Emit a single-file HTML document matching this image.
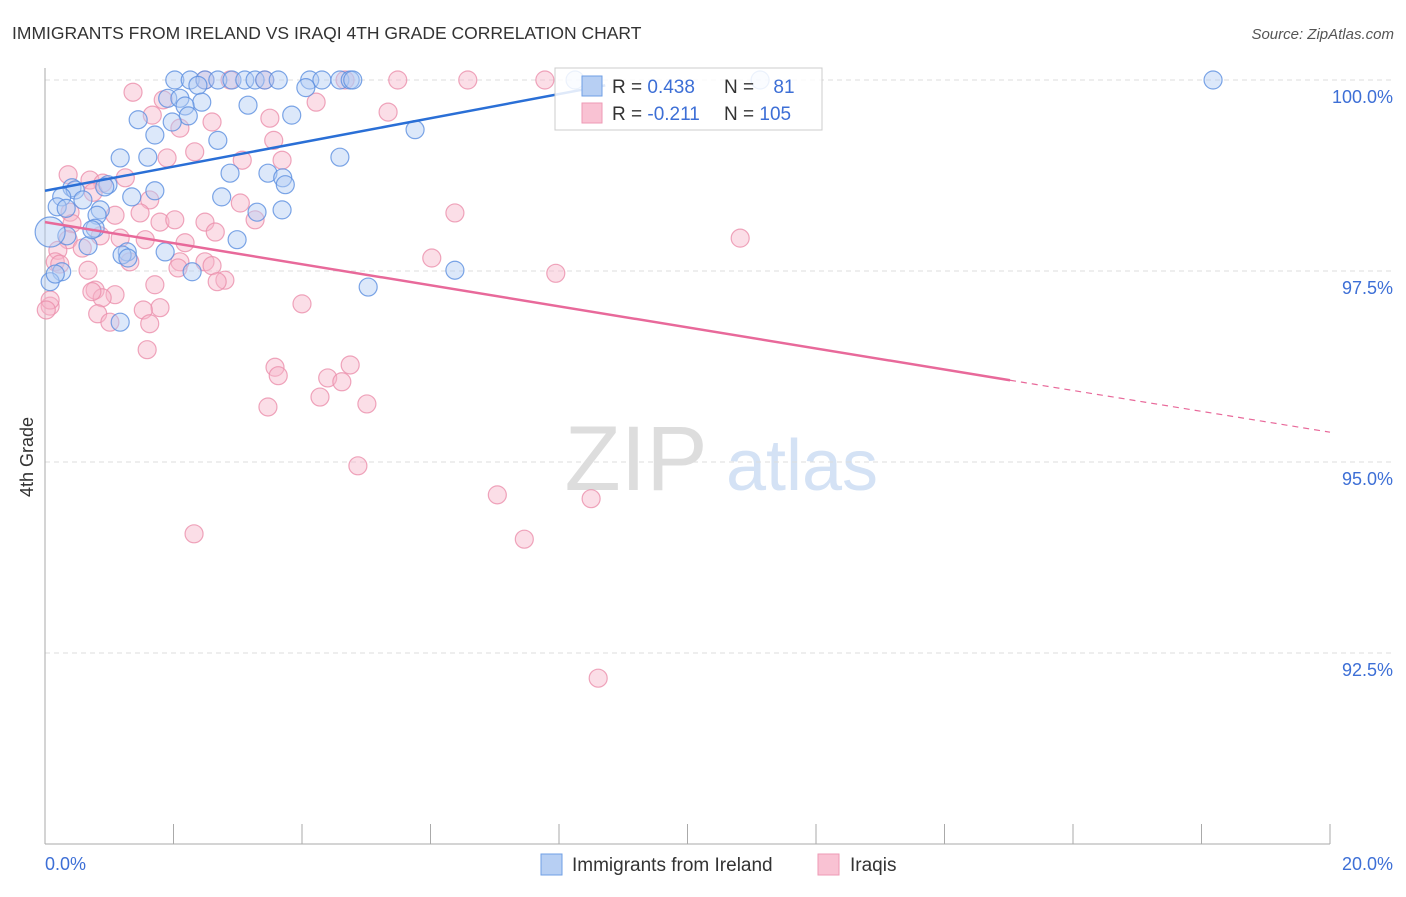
<!DOCTYPE html>
<html><head><meta charset="utf-8"><style>
body{margin:0;background:#fff;font-family:"Liberation Sans",sans-serif;}
svg text{font-family:"Liberation Sans",sans-serif;}
</style></head><body>
<svg id="chart" width="1406" height="892" viewBox="0 0 1406 892">
<text x="12" y="39" font-size="17.5" fill="#333">IMMIGRANTS FROM IRELAND VS IRAQI 4TH GRADE CORRELATION CHART</text>
<text x="1394" y="39" font-size="15" fill="#555" font-style="italic" text-anchor="end">Source: ZipAtlas.com</text>
<text x="33" y="457" font-size="18" fill="#333" text-anchor="middle" transform="rotate(-90 33 457)">4th Grade</text>
<g><text x="636" y="490" font-size="92" fill="#ddd" text-anchor="middle" font-family="Liberation Serif,serif">ZIP</text><text x="802" y="490" font-size="72" fill="#d4e2f5" text-anchor="middle">atlas</text></g>
<g id="grid"></g><g id="axes"></g><g id="pts"></g><g id="trend"></g>
<g>
<rect x="555" y="68" width="267" height="62" fill="#fff" fill-opacity="0.85" stroke="#ccc"/>
<rect x="582" y="76" width="20" height="20" fill="#b7cff3" stroke="#6f9fe6"/>
<rect x="582" y="103" width="20" height="20" fill="#f9c2d3" stroke="#ee9ab4"/>
<text x="612" y="93" font-size="19" fill="#333">R = <tspan fill="#3d6fd6">0.438</tspan></text>
<text x="724" y="93" font-size="19" fill="#333">N = <tspan fill="#3d6fd6" dx="14">81</tspan></text>
<text x="612" y="120" font-size="19" fill="#333">R = <tspan fill="#3d6fd6">-0.211</tspan></text>
<text x="724" y="120" font-size="19" fill="#333">N = <tspan fill="#3d6fd6">105</tspan></text>
</g>
<g>
<rect x="541" y="854" width="21" height="21" fill="#b7cff3" stroke="#6f9fe6"/>
<text x="572" y="871" font-size="19" fill="#333">Immigrants from Ireland</text>
<rect x="818" y="854" width="21" height="21" fill="#f9c2d3" stroke="#ee9ab4"/>
<text x="850" y="871" font-size="19" fill="#333">Iraqis</text>
</g>
</svg>
<script>
const yTicks=[100,97.5,95,92.5];
const yTickLabels=["100.0%","97.5%","95.0%","92.5%"];
const xTicks=[0,2,4,6,8,10,12,14,16,18,20];
const blueX=[2.02,2.26,2.49,2.69,2.91,3.11,3.27,3.42,3.63,4.12,4.31,4.59,4.75,4.79,18.18,8.25,11.13,2.38,4.06,1.91,2.1,2.44,3.16,2.18,3.84,2.23,1.45,1.98,1.71,5.76,2.69,1.17,1.6,4.59,2.88,3.47,3.7,3.74,0.98,0.42,0.47,1.71,0.93,0.26,2.75,1.35,0.59,0.19,0.33,3.3,3.69,0.86,0.81,0.78,2.99,0.34,0.67,1.28,1.87,1.2,0.26,2.29,6.38,5.03,1.17,0.08,0.08,0.73,1.29,0.16];
const blueY=[100,100,100,100,100,100,100,100,100,100,100,100,100,100,100,100,100,99.93,99.9,99.76,99.76,99.71,99.67,99.66,99.54,99.53,99.48,99.45,99.28,99.35,99.21,98.98,98.99,98.99,98.78,98.78,98.72,98.63,98.63,98.59,98.56,98.55,98.6,98.47,98.47,98.47,98.43,98.34,98.32,98.27,98.3,98.3,98.23,98.06,97.91,97.96,97.83,97.75,97.75,97.71,97.49,97.49,97.51,97.29,96.83,98.01,97.36,98.04,97.67,97.46];
const pinkX=[1.37,2.88,3.42,2.49,5.49,6.58,7.78,4.67,4.22,5.34,1.84,1.67,2.6,2.1,3.5,3.56,2.33,3.07,3.69,1.9,1.25,0.7,0.9,0.75,1.63,3.04,3.27,6.38,0.39,1.09,1.48,0.42,1.79,2.02,2.49,2.65,0.86,1.56,1.17,2.18,0.36,0.58,0.2,1.32,2.1,2.49,2.6,6.02,10.82,7.95,2.07,0.16,0.23,0.67,0.78,1.71,2.8,2.68,1.09,0.89,0.73,4.0,1.79,1.53,0.08,0.82,1.01,1.63,0.08,1.59,3.58,3.63,4.4,4.75,4.62,4.28,5.01,3.47,4.87,7.04,8.5,7.46,2.32,8.61,0.36,0.02];
const pinkY=[99.84,100,100,100,100,100,100,100,99.71,99.58,99.74,99.54,99.45,99.37,99.5,99.21,99.06,98.95,98.95,98.98,98.72,98.69,98.65,98.53,98.43,98.39,98.17,98.26,98.27,98.23,98.26,98.12,98.14,98.17,98.14,98.01,97.96,97.91,97.93,97.87,97.91,97.8,97.77,97.62,97.62,97.62,97.57,97.67,97.93,97.47,97.54,97.62,97.59,97.51,97.25,97.32,97.38,97.36,97.19,97.15,97.23,97.07,97.02,96.99,97.04,96.94,96.83,96.81,97.12,96.47,96.24,96.13,96.1,96.27,96.05,95.85,95.76,95.72,94.95,94.57,94.52,93.99,94.06,92.17,98.76,96.99];
const blueTrend=[[0,98.55],[8.72,99.93]];
const pinkTrend=[[0,98.14],[15.02,96.07]];
const pinkTrendDash=[[15.02,96.07],[20,95.39]];
const NS="http://www.w3.org/2000/svg";
const X=v=>45+v/20*1285;
const Y=v=>80+(100-v)/2.5*191;
function mk(tag,attrs,parent){const e=document.createElementNS(NS,tag);for(const k in attrs)e.setAttribute(k,attrs[k]);parent.appendChild(e);return e;}
const grid=document.getElementById('grid'),axes=document.getElementById('axes'),pts=document.getElementById('pts'),tr=document.getElementById('trend');
yTicks.forEach((t,i)=>{
 const l=mk('line',{x1:45,x2:1393,y1:Y(t),y2:Y(t),stroke:'#ddd','stroke-dasharray':'5,4'},grid);
 
 
 const tx=mk('text',{x:1393,y:Y(t)+23,'font-size':18,fill:'#3d6fd6','text-anchor':'end'},axes);
 tx.textContent=yTickLabels[i];
 
 
});
const ax=mk('line',{x1:45,x2:45,y1:68,y2:Y(90),stroke:'#aaa'},axes);


const bx=mk('line',{x1:45,x2:1330,y1:Y(90),y2:Y(90),stroke:'#aaa'},axes);


xTicks.forEach(t=>{
 const l=mk('line',{x1:X(t),x2:X(t),y1:Y(90)-20,y2:Y(90),stroke:'#aaa'},axes);
 
 
});
const x0=mk('text',{x:45,y:870,'font-size':18,fill:'#3d6fd6'},axes);x0.textContent='0.0%';


const x1=mk('text',{x:1393,y:870,'font-size':18,fill:'#3d6fd6','text-anchor':'end'},axes);x1.textContent='20.0%';


function dots(xs,ys,fill,stroke,name){
 xs.forEach((v,i)=>{
  const big=(v<0.1&&Math.abs(ys[i]-98.01)<0.02)?15:9;
  const c=mk('circle',{cx:X(v),cy:Y(ys[i]),r:big,fill:fill,'fill-opacity':0.45,stroke:stroke,'stroke-opacity':0.8,'stroke-width':1.2},pts);
  
  
 });
}
dots(pinkX,pinkY,'#f7b6c9','#eb8fab','iraqis-point');
dots(blueX,blueY,'#b2cdf3','#5b8fe0','ireland-point');
function line(p,col,w,dash,name){
 const l=mk('line',{x1:X(p[0][0]),y1:Y(p[0][1]),x2:X(p[1][0]),y2:Y(p[1][1]),stroke:col,'stroke-width':w},tr);
 if(dash)l.setAttribute('stroke-dasharray',dash);
 
 
}
line(blueTrend,'#2a6fd6',2.5,null,'ireland-trend-line');
line(pinkTrend,'#e8699a',2.5,null,'iraqis-trend-line');
line(pinkTrendDash,'#e8699a',1.2,'6,5','iraqis-trend-extension');
</script>
</body></html>
